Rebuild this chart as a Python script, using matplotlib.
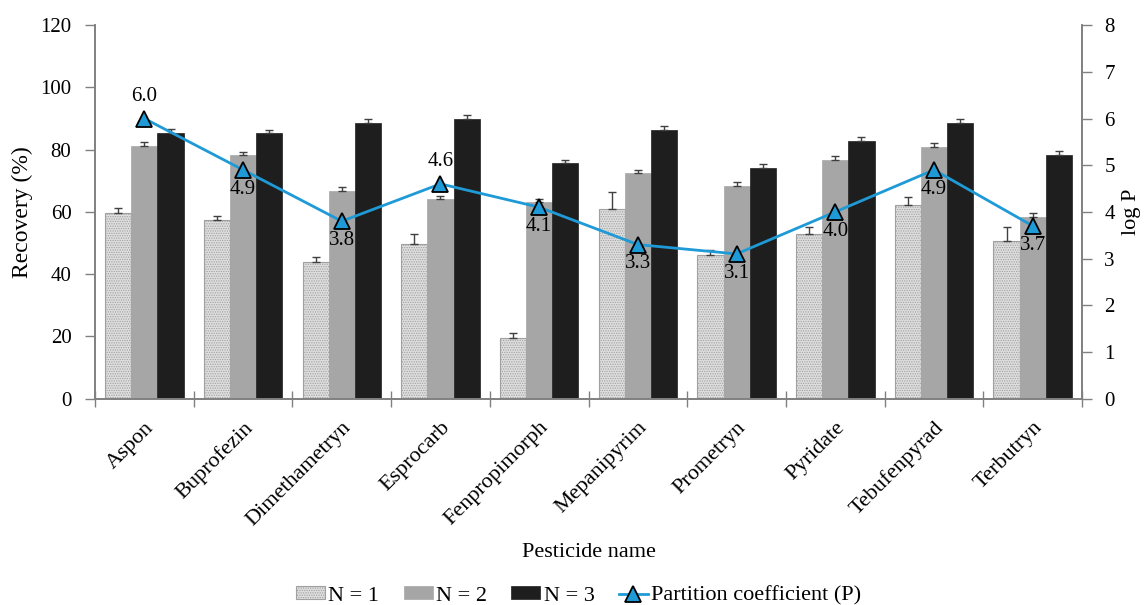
import numpy as np
import matplotlib
matplotlib.use('Agg')
from matplotlib import pyplot as plt

plt.rcParams['font.family'] = ['Liberation Serif', 'DejaVu Serif']
plt.rcParams['hatch.color'] = '#9a9a9a'
plt.rcParams['hatch.linewidth'] = 0.6

# Data
pesticides = ['Aspon', 'Buprofezin', 'Dimethametryn', 'Esprocarb', 'Fenpropimorph',
              'Mepanipyrim', 'Prometryn', 'Pyridate', 'Tebufenpyrad', 'Terbutryn']
n1 = [59.7, 57.5, 43.9, 49.6, 19.6, 61.0, 46.1, 52.8, 62.1, 50.5]
n1_err = [1.5, 1.1, 1.5, 3.2, 1.5, 5.4, 1.6, 2.5, 2.6, 4.8]
n2 = [81.1, 78.2, 66.8, 64.0, 63.1, 72.4, 68.4, 76.6, 80.9, 58.3]
n2_err = [1.2, 1.2, 1.1, 1.2, 1.0, 1.2, 1.3, 1.2, 1.1, 1.2]
n3 = [85.5, 85.4, 88.7, 90.0, 75.7, 86.3, 74.1, 82.8, 88.7, 78.3]
n3_err = [1.2, 1.0, 1.2, 1.2, 1.1, 1.2, 1.2, 1.1, 1.2, 1.2]
log_p = [6.0, 4.9, 3.8, 4.6, 4.1, 3.3, 3.1, 4.0, 4.9, 3.7]
label_above = [True, False, False, True, False, False, False, False, False, False]

fig = plt.figure(figsize=(11.46, 6.05), dpi=100)
ax1 = fig.add_axes([0.0829, 0.341, 0.8613, 0.6175])
ax2 = ax1.twinx()

x = np.arange(len(pesticides)) + 0.5
w = 0.265
err_kw = dict(ecolor='#404040', elinewidth=1.0, capsize=3, capthick=1.0)

ax1.bar(x - w, n1, w, yerr=[[0] * len(n1), n1_err], color='#dedede', edgecolor='#a0a0a0',
        linewidth=0.8, hatch='.......', error_kw=err_kw, label='N = 1', zorder=2)
ax1.bar(x, n2, w, yerr=[[0] * len(n2), n2_err], color='#a6a6a6', edgecolor='#a6a6a6',
        linewidth=0.5, error_kw=err_kw, label='N = 2', zorder=2)
ax1.bar(x + w, n3, w, yerr=[[0] * len(n3), n3_err], color='#1e1e1e', edgecolor='#1e1e1e',
        linewidth=0.5, error_kw=err_kw, label='N = 3', zorder=2)

ax2.plot(x, log_p, color='#1e9ad6', linewidth=2, marker='^', markersize=11,
         markerfacecolor='#1e9ad6', markeredgecolor='black', markeredgewidth=1.3,
         label='Partition coefficient (P)')
for xi, v, up in zip(x, log_p, label_above):
    if up:
        ax2.annotate(f'{v:.1f}', (xi, v), xytext=(0, 9), textcoords='offset points',
                     ha='center', va='bottom', fontsize=15)
    else:
        ax2.annotate(f'{v:.1f}', (xi, v), xytext=(0, -7), textcoords='offset points',
                     ha='center', va='top', fontsize=15)

# Axes formatting
ax1.set_xlim(0, len(pesticides))
ax1.set_ylim(0, 120)
ax1.set_yticks(range(0, 121, 20))
ax2.set_ylim(0, 8)
ax2.set_yticks(range(0, 9))

ax1.set_xticks(x)
ax1.set_xticklabels(pesticides, rotation=45, ha='right', rotation_mode='anchor', fontsize=16)
ax1.set_xticks(np.arange(0, len(pesticides) + 1), minor=True)
ax1.tick_params(axis='x', which='major', length=0, pad=14)
ax1.tick_params(axis='x', which='minor', direction='inout', length=11, color='#808080', width=1)
ax1.tick_params(axis='y', direction='out', length=7, color='#808080', width=1, labelsize=15, pad=10)
ax2.tick_params(axis='y', direction='out', length=7, color='#808080', width=1, labelsize=15, pad=9)

for ax in (ax1, ax2):
    ax.spines['top'].set_visible(False)
    for s in ('left', 'right', 'bottom'):
        ax.spines[s].set_color('#808080')
        ax.spines[s].set_linewidth(1.2)

ax1.set_ylabel('Recovery (%)', fontsize=17)
ax1.yaxis.set_label_coords(-0.063, 0.5)
ax2.set_ylabel('log P', fontsize=16)
ax2.yaxis.set_label_coords(1.040, 0.5)
ax1.set_xlabel('Pesticide name', fontsize=16)
ax1.xaxis.set_label_coords(0.5, -0.385)

h1, l1 = ax1.get_legend_handles_labels()
h2, l2 = ax2.get_legend_handles_labels()
fig.legend(h1 + h2, l1 + l2, loc='center', bbox_to_anchor=(0.505, 0.015), ncol=4,
           frameon=False, fontsize=16, handlelength=1.3, handleheight=0.5,
           handletextpad=0.15, columnspacing=1.1, borderaxespad=0)

plt.savefig('out.png', dpi=100)
